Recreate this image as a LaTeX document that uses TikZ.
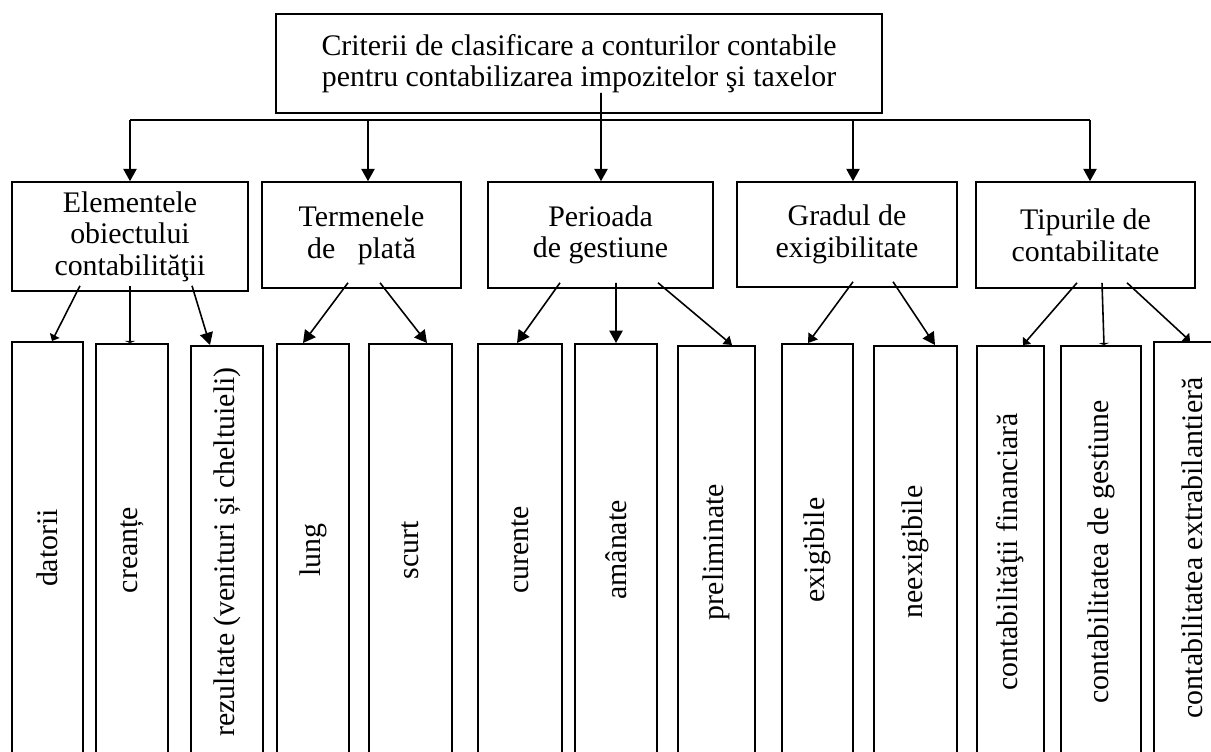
\documentclass[tikz,border=0pt]{standalone}
\usepackage{fontspec}
\setmainfont{Liberation Serif}
\usepackage{graphicx}
\usetikzlibrary{arrows.meta,calc}
\begin{document}
\begin{tikzpicture}
[   x=0.02cm,y=-0.02cm,
    line width=0.9pt,
    font=\fontsize{17}{18}\selectfont,
    cbox/.style={draw,rectangle,align=center,inner sep=2pt,minimum width=#1},
    vbox/.style={draw,rectangle,anchor=north,inner sep=0pt,minimum height=8.25cm,minimum width=#1},
    arr/.style={-{Triangle[length=7pt,width=7.5pt]}},
]
    \useasboundingbox (0,0) rectangle (1211,751);
    \clip (0,0) rectangle (1211,751);
    \node[cbox=12.12cm,minimum height=1.98cm] (top) at (579,63.5)
        {Criterii de clasificare a conturilor contabile\\pentru contabilizarea impozitelor şi taxelor};
    \node[cbox=4.72cm,minimum height=2.18cm] (el) at (130,236.5) {Elementele\\obiectului\\contabilităţii};
    \node[cbox=3.98cm,minimum height=2.12cm] (te) at (361.5,235) {Termenele\\de\ \ \ plată};
    \node[cbox=4.5cm,minimum height=2.12cm] (pe) at (600.5,235) {Perioada\\de gestiune};
    \node[cbox=4.4cm,minimum height=2.1cm] (gr) at (847,234.5) {Gradul de\\exigibilitate};
    \node[cbox=4.38cm,minimum height=2.12cm] (ti) at (1085.5,235) {Tipurile de\\contabilitate};
    \foreach \n/\x/\w/\t/\txt in {d1/47.5/1.42/341/datorii, d2/132/1.44/343/creanțe,
        d3/227/1.44/345/rezultate (venituri și cheltuieli), d4/313/1.44/343/lung,
        d5/410.5/1.66/343/scurt, d6/520/1.68/343/curente, d7/616/1.64/343/amânate,
        d8/716.5/1.54/345/preliminate, d9/817.5/1.42/343/exigibile, d10/915.5/1.66/345/neexigibile,
        d11/1010.5/1.34/345/contabilităţii financiară, d12/1101/1.6/345/contabilitatea de gestiune,
        d13/1192/1.52/341/contabilitatea extrabilantieră}
    {   \node[vbox=\w cm] (\n) at (\x,\t) {\rotatebox{90}{\txt}};
    }
    % bus from the title box
    \coordinate (bus) at (601,120);
    \draw ([xshift=0.44cm,yshift=0.42cm]top.south) -- (bus);
    \draw (el.north |- bus) -- ($(ti.north |- bus)+(4.5,0)$);
    \draw[arr] (bus) -- (bus |- pe.north);
    \foreach \n/\dx in {el/0,te/6.5,gr/6,ti/4.5}
    {   \draw[arr] ($(\n.north |- bus)+(\dx,0)$) -- ($(\n.north)+(\dx,0)$);
    }
    % criteria to sub-kinds
    \foreach \src/\sx/\dst/\dx/\len/\wid in {el/-50/d1/4.5/3.5/6, el/0/d2/-2/1.2/6, el/62/d3/-17/7/7.5,
        te/-13.5/d4/-10/7/7.5, te/18.5/d5/16.5/7/7.5,
        pe/-40.5/d6/-3/7/7.5, pe/15.5/d7/0/7/7.5, pe/57.5/d8/15.5/4.5/6,
        gr/6/d9/-9.5/5/6.5, gr/46/d10/19.5/7/7.5,
        ti/-8.5/d11/12.5/3.5/6, ti/16.5/d12/3/1.2/6, ti/41.5/d13/-2/3.5/6}
    {   \draw[-{Triangle[length=\len pt,width=\wid pt]}] ($(\src.south)+(\sx,-6)$) -- ($(\dst.north)+(\dx,0)$);
    }
\end{tikzpicture}
\end{document}
